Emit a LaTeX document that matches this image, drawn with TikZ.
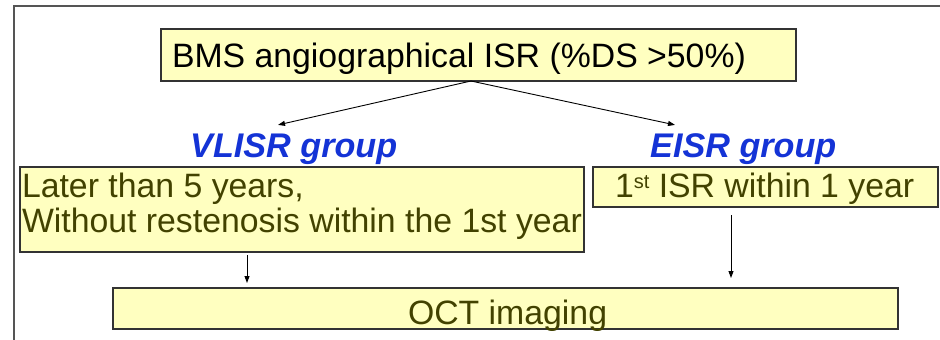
\documentclass[tikz,border=0pt]{standalone}
\usepackage{fontspec}
\setmainfont{Liberation Sans}
\usetikzlibrary{arrows.meta,calc}
\definecolor{boxfill}{HTML}{FFFFC0}
\definecolor{boxtext}{HTML}{424200}
\definecolor{grpblue}{HTML}{1433D6}
\definecolor{framegray}{HTML}{555555}
\begin{document}
\begin{tikzpicture}[x=1pt,y=-1pt,
  box/.style={draw=black!80, line width=1.1pt, fill=boxfill, inner sep=0pt, outer sep=0pt, anchor=north west},
  txt/.style={anchor=base west, inner sep=0pt, outer sep=0pt, font=\fontsize{33.8}{35}\selectfont},
  grp/.style={anchor=base west, inner sep=0pt, text=grpblue, font=\fontsize{34.2}{35}\selectfont\bfseries\itshape},
  arr/.style={-{Triangle[length=7pt,width=5pt]}, line width=0.9pt, black}]
\useasboundingbox (0,0) rectangle (940,340);
\fill[white] (0,0) rectangle (940,340);
% outer frame
\draw[framegray, line width=1.4pt] (940,6) -- (14,6) -- (14,341);
% boxes
\node[box, minimum width=635pt, minimum height=52pt] (top) at (161,29) {};
\node[box, minimum width=564pt, minimum height=85pt] (left) at (20,167) {};
\node[box, minimum width=345pt, minimum height=40pt] (right) at (593,167) {};
\node[box, minimum width=785pt, minimum height=41pt] (oct) at (113,288) {};
% texts
\node[txt] (toptext) at (172,67) {BMS angiographical ISR (\%DS >50\%)};
\node[grp] (vl) at (190,157) {VLISR group};
\node[grp] (ei) at (650,157) {EISR group};
\node[txt, text=boxtext] (l1) at (22,197) {Later than 5 years,};
\node[txt, text=boxtext] (l2) at (22,232) {Without restenosis within the 1st year};
\node[txt, text=boxtext] (r1) at (615,197) {1\raisebox{9pt}{\fontsize{20}{20}\selectfont st} ISR within 1 year};
\node[txt, text=boxtext] (o1) at (408,324) {OCT imaging};
% connector end points
\coordinate (s) at ($(top.south west)+(310,0)$);
\coordinate (vlend) at ($(vl.north west)+(88,-8)$);
\coordinate (eiend) at ($(ei.north west)+(25,-8)$);
\coordinate (ls) at ($(left.south west)+(227,3)$);
\coordinate (le) at ($(oct.north west)+(134,-5)$);
\coordinate (rs) at ($(right.south west)+(138,8)$);
\coordinate (re) at ($(oct.north west)+(618,-10)$);
\draw[arr] (s) -- (vlend);
\draw[arr] (s) -- (eiend);
\draw[arr] (ls) -- (le);
\draw[arr] (rs) -- (re);
\end{tikzpicture}
\end{document}
